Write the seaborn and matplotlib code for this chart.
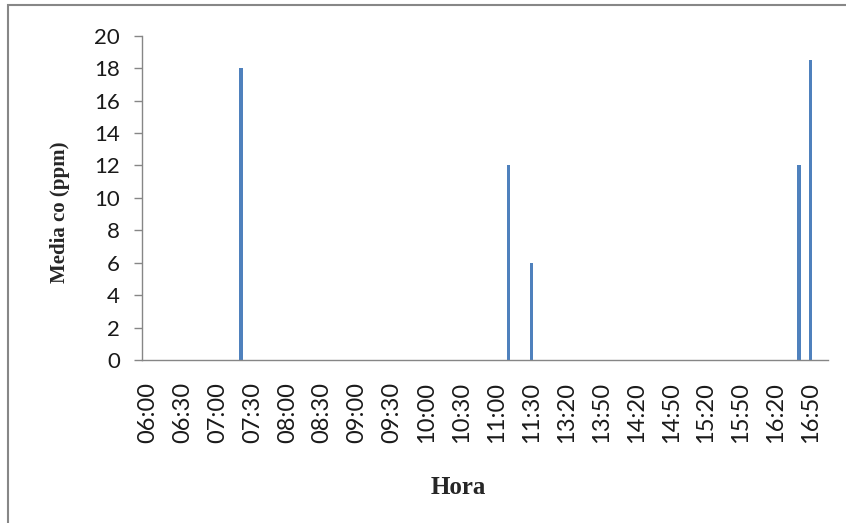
import matplotlib
matplotlib.use("Agg")
import matplotlib.pyplot as plt
from matplotlib.patches import Rectangle
import pandas as pd
import seaborn as sns

# Sampling times (10-minute readings, with the midday break)
horas = [
    "06:00", "06:10", "06:20", "06:30", "06:40", "06:50",
    "07:00", "07:10", "07:20", "07:30", "07:40", "07:50",
    "08:00", "08:10", "08:20", "08:30", "08:40", "08:50",
    "09:00", "09:10", "09:20", "09:30", "09:40", "09:50",
    "10:00", "10:10", "10:20", "10:30", "10:40", "10:50",
    "11:00", "11:10", "11:20", "11:30", "11:40", "13:10",
    "13:20", "13:30", "13:40", "13:50", "14:00", "14:10",
    "14:20", "14:30", "14:40", "14:50", "15:00", "15:10",
    "15:20", "15:30", "15:40", "15:50", "16:00", "16:10",
    "16:20", "16:30", "16:40", "16:50", "17:00",
]

# Mean CO concentration (ppm) per reading
media_co = [
    0, 0, 0, 0, 0, 0,
    0, 0, 18, 0, 0, 0,
    0, 0, 0, 0, 0, 0,
    0, 0, 0, 0, 0, 0,
    0, 0, 0, 0, 0, 0,
    0, 12, 0, 6, 0, 0,
    0, 0, 0, 0, 0, 0,
    0, 0, 0, 0, 0, 0,
    0, 0, 0, 0, 0, 0,
    0, 0, 12, 18.5, 0,
]

y_ticks = [0, 2, 4, 6, 8, 10, 12, 14, 16, 18, 20]

df = pd.DataFrame({"Hora": horas, "Media co (ppm)": media_co})

sns.set_theme(style="white")
plt.rcParams["font.family"] = ["Lato", "DejaVu Sans"]

fig = plt.figure(figsize=(8.46, 5.23), dpi=100)
ax = fig.add_axes([142 / 846, 1 - 360 / 523, (828 - 142) / 846, (360 - 35.7) / 523])

sns.barplot(
    data=df, x="Hora", y="Media co (ppm)", order=horas,
    color="#4F81BD", saturation=1, width=0.3, linewidth=0, ax=ax,
)

ax.set_xlim(-0.5, len(horas) - 0.5)
ax.set_ylim(0, 20)
ax.set_yticks(y_ticks)
ax.set_yticklabels([str(v) for v in y_ticks])

label_idx = list(range(0, len(horas), 3))
ax.set_xticks(label_idx)
ax.set_xticklabels([horas[i] for i in label_idx], rotation=90)

for side in ("top", "right"):
    ax.spines[side].set_visible(False)
for side in ("left", "bottom"):
    ax.spines[side].set_color("#868686")
    ax.spines[side].set_linewidth(1.0)

ax.tick_params(axis="y", direction="out", length=6, width=1, color="#868686",
               pad=10, labelsize=16, labelcolor="#1a1a1a", left=True)
ax.tick_params(axis="x", length=0, pad=16, labelsize=17, labelcolor="#1a1a1a")

serif = ["Liberation Serif", "DejaVu Serif"]
ax.set_xlabel("")
ax.set_ylabel("")
fig.text(458 / 846, 1 - 487 / 523, "Hora", ha="center", va="center",
         family=serif, weight="bold", size=18)
fig.text(60 / 846, 1 - 212 / 523, "Media co (ppm)", ha="center", va="center",
         rotation=90, family=serif, weight="bold", size=15)

# Chart-area frame
fig.patches.append(Rectangle((8 / 846, -0.05), 1.2, 1 - 5 / 523 + 0.05,
                             transform=fig.transFigure, fill=False,
                             edgecolor="#878787", linewidth=1.5))

fig.savefig("out.png", dpi=100)
